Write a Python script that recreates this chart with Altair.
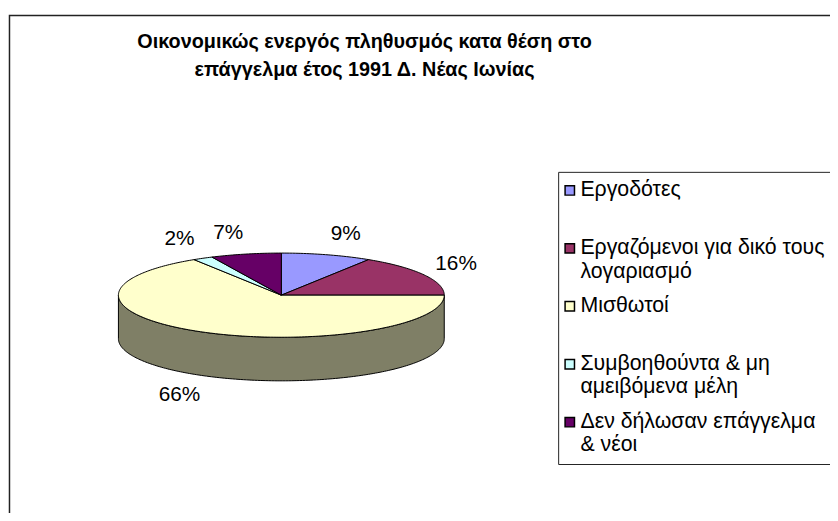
import math
import altair as alt
import pandas as pd

# ---------------- data ----------------
categories = [
    "Εργοδότες",
    "Εργαζόμενοι για δικό τους λογαριασμό",
    "Μισθωτοί",
    "Συμβοηθούντα & μη αμειβόμενα μέλη",
    "Δεν δήλωσαν επάγγελμα & νέοι",
]
shares = [9, 16, 66, 2, 7]
colors = ["#9999FF", "#993366", "#FFFFCC", "#CCFFFF", "#660066"]
legend_lines = [
    ["Εργοδότες"],
    ["Εργαζόμενοι για δικό τους", "λογαριασμό"],
    ["Μισθωτοί"],
    ["Συμβοηθούντα & μη", "αμειβόμενα μέλη"],
    ["Δεν δήλωσαν επάγγελμα", "& νέοι"],
]
title_lines = [
    "Οικονομικώς ενεργός πληθυσμός κατα θέση στο",
    "επάγγελμα έτος 1991 Δ. Νέας Ιωνίας",
]

# ---------------- layout ----------------
FONT = "Liberation Sans"
PAD_L, PAD_T = 1, 5
W, H = 829, 505 - PAD_T
CX = 284 - 8 - PAD_L          # pie centre inside the view
CY = 295.5 - 8 - PAD_T
RX, RY, DEPTH = 164.5, 42.5, 44
D = DEPTH / RY                # depth in y-units


def darken(hexcol, f=0.5):
    r, g, b = (int(hexcol[i:i + 2], 16) for i in (1, 3, 5))
    return "#%02X%02X%02X" % (int(r * f), int(g * f), int(b * f))


def arc(a0, a1):
    n = max(3, int(math.degrees(a1 - a0)) + 2)
    return [(math.sin(a0 + (a1 - a0) * j / (n - 1)),
             -math.cos(a0 + (a1 - a0) * j / (n - 1))) for j in range(n)]


total = sum(shares)
top_rows, side_rows, label_rows = [], [], []
cum = 0
for k, (cat, v, col) in enumerate(zip(categories, shares, colors)):
    a0 = 2 * math.pi * cum / total
    a1 = 2 * math.pi * (cum + v) / total
    cum += v
    pts = [(0.0, 0.0)] + arc(a0, a1) + [(0.0, 0.0)]
    for i, (x, y) in enumerate(pts):
        top_rows.append({"cat": cat, "poly": f"t{k}", "i": i, "x": x, "y": y})
    s0, s1 = max(a0, math.pi / 2), min(a1, 3 * math.pi / 2)
    if s1 > s0:
        edge = arc(s0, s1)
        spts = edge + [(x, y + D) for x, y in reversed(edge)] + [edge[0]]
        for i, (x, y) in enumerate(spts):
            side_rows.append({"cat": cat, "poly": f"s{k}", "i": i, "x": x, "y": y,
                              "side": darken(col)})
    m = (a0 + a1) / 2
    s, c = math.sin(m), math.cos(m)
    sign = 1 if s >= 0 else -1
    lx = (RX * s + 22 * s + 13 * sign) / RX
    ly = (-RY * c + (DEPTH if c < 0 else 0) - 22 * c) / RY
    label_rows.append({"cat": cat, "x": lx, "y": ly, "txt": f"{v}%"})

top_df = pd.DataFrame(top_rows)
side_df = pd.DataFrame(side_rows)
label_df = pd.DataFrame(label_rows)

xs = alt.Scale(domain=[(0 - CX) / RX, (W - CX) / RX], nice=False, zero=False)
ys = alt.Scale(domain=[(0 - CY) / RY, (H - CY) / RY], nice=False, zero=False, reverse=True)
X = alt.X("x:Q", scale=xs, axis=None)
Y = alt.Y("y:Q", scale=ys, axis=None)

label_expr = "datum.label"
for cat, lines in reversed(list(zip(categories, legend_lines))):
    arr = "[" + ",".join("'" + ln + "'" for ln in lines) + "]"
    label_expr = f"datum.label == '{cat}' ? {arr} : ({label_expr})"

border = alt.Chart(pd.DataFrame({"a": [0]})).mark_rect(
    fill="white", fillOpacity=0, stroke="#222222", strokeWidth=1.5
).encode(x=alt.value(0.5), y=alt.value(0), x2=alt.value(W + 60), y2=alt.value(H + 60))

sides = alt.Chart(side_df).mark_line(
    filled=True, stroke="black", strokeWidth=1, strokeJoin="round"
).encode(x=X, y=Y, order="i:Q", detail="poly:N", fill=alt.Fill("side:N", scale=None, legend=None))

tops = alt.Chart(top_df).mark_line(
    filled=True, stroke="black", strokeWidth=1, strokeJoin="round"
).encode(
    x=X, y=Y, order="i:Q", detail="poly:N",
    color=alt.Color(
        "cat:N",
        scale=alt.Scale(domain=categories, range=colors),
        sort=categories,
        legend=alt.Legend(
            orient="none", legendX=563.5 - 8 - PAD_L, legendY=171 - 8 - PAD_T, title=None,
            symbolType="square", symbolSize=90, symbolStrokeColor="black",
            symbolStrokeWidth=1.5, symbolOpacity=1, symbolOffset=-7,
            labelFont=FONT, labelFontSize=21.5, labelColor="black", labelLimit=600,
            labelExpr=label_expr, labelOffset=0, rowPadding=12.5, padding=8,
            strokeColor="#222222", fillColor="white", gridAlign="all",
        ),
    ),
)

labels = alt.Chart(label_df).mark_text(
    font=FONT, fontSize=21, color="black", align="center", baseline="middle"
).encode(x=X, y=Y, text="txt:N")

chart = alt.layer(border, sides, tops, labels).properties(
    width=W, height=H,
    padding={"left": PAD_L, "top": PAD_T, "right": 0, "bottom": 0},
    autosize=alt.AutoSizeParams(type="none"),
    title=alt.TitleParams(
        text=title_lines, font=FONT, fontSize=20, fontWeight="bold", color="black",
        anchor="middle", baseline="middle", dx=368 - 8 - PAD_L - W / 2,
        dy=89 - 8 - PAD_T, lineHeight=28, offset=0,
    ),
).configure_view(stroke=None)

chart.save("out.html", embed_options={"renderer": "svg", "actions": False})
